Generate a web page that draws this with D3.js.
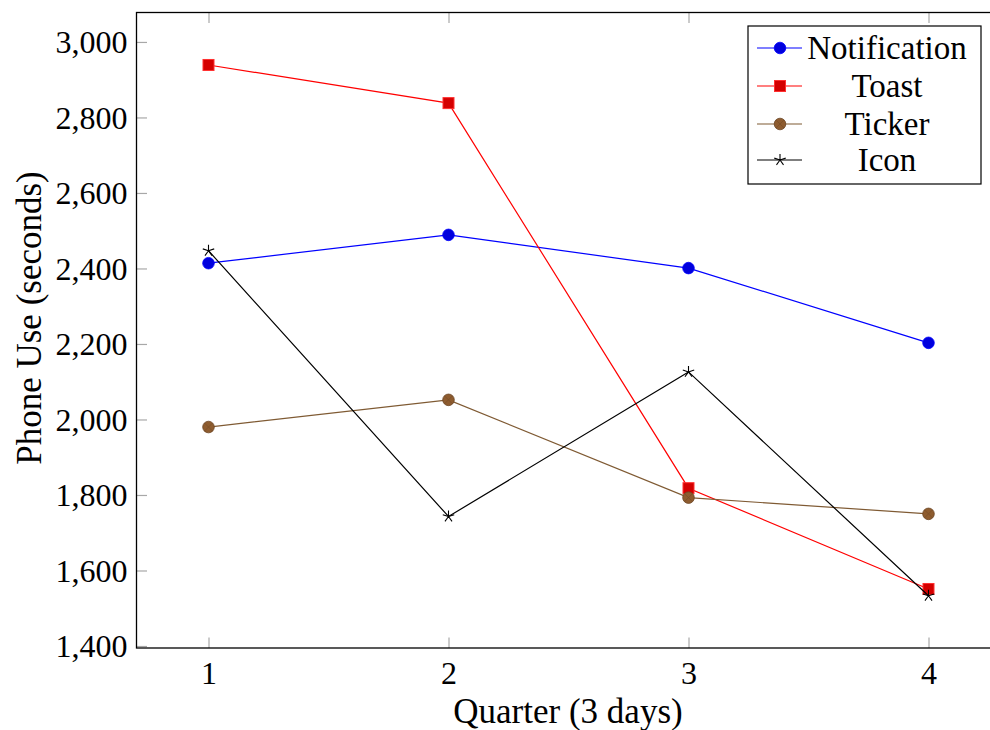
<!DOCTYPE html>
<html><head><meta charset="utf-8">
<script src="https://cdn.jsdelivr.net/npm/d3@7"></script>
<style>
html,body{margin:0;padding:0;background:#fff;}
svg{display:block;}
</style></head>
<body><svg id="c" width="990" height="730"></svg>
<script>
const quarters = [1, 2, 3, 4];
const notification = [2414, 2489, 2401, 2203];
const toast = [2939, 2838, 1818, 1551];
const ticker = [1980, 2052, 1793, 1750];
const icon = [2447, 1743, 2126, 1533];
const seriesNames = ["Notification", "Toast", "Ticker", "Icon"];
const yTicks = [1400, 1600, 1800, 2000, 2200, 2400, 2600, 2800, 3000];
const xTicks = [1, 2, 3, 4];

const series = [
  {name: seriesNames[0], values: notification, line: "#0000ff", fill: "#0000dd", stroke: "#0000ff", mark: "circle"},
  {name: seriesNames[1], values: toast, line: "#ff0000", fill: "#d40000", stroke: "#ff3030", mark: "square"},
  {name: seriesNames[2], values: ticker, line: "#7f5a33", fill: "#8e5c2f", stroke: "#6b4524", mark: "otimes"},
  {name: seriesNames[3], values: icon, line: "#000000", fill: "none", stroke: "#000", mark: "star"}
];

const FONT = "Liberation Serif";
const svg = d3.select("#c");
const L = 136.5, R = 1000.5, T = 12.5, B = 648;
const x = d3.scaleLinear().domain([0.7, 4.3]).range([L, R]);
const y = d3.scaleLinear().domain([1394.7, 3078]).range([B, T]);
const FS_TICK = 32, FS_LEG = 33, FS_LAB = 35;
const tickLen = 10.5;
const tickColor = "#a8a8a8";

function styleText(sel, fs) {
  return sel.attr("font-family", FONT).attr("font-size", fs).attr("fill", "#000");
}

const g = svg.append("g");
const yAxisL = d3.axisLeft(y).tickValues(yTicks).tickSize(-tickLen).tickFormat(d3.format(","));
const gl = g.append("g").attr("transform", `translate(${L},0)`).call(yAxisL);
gl.attr("font-family", FONT).attr("font-size", FS_TICK);
gl.select(".domain").remove();
gl.selectAll(".tick line").attr("stroke", tickColor).attr("stroke-width", 1.2);
styleText(gl.selectAll(".tick text").attr("x", -9).attr("dy", "0.33em"), FS_TICK);

const yAxisR = d3.axisRight(y).tickValues(yTicks).tickSize(-tickLen).tickFormat("");
const gr = g.append("g").attr("transform", `translate(${R},0)`).call(yAxisR);
gr.select(".domain").remove();
gr.selectAll(".tick line").attr("stroke", tickColor).attr("stroke-width", 1.2);

const xAxisB = d3.axisBottom(x).tickValues(xTicks).tickSize(-tickLen).tickFormat(d3.format("d"));
const gb = g.append("g").attr("transform", `translate(0,${B})`).call(xAxisB);
gb.attr("font-family", FONT).attr("font-size", FS_TICK);
gb.select(".domain").remove();
gb.selectAll(".tick line").attr("stroke", tickColor).attr("stroke-width", 1.2);
styleText(gb.selectAll(".tick text").attr("y", 36).attr("dy", 0), FS_TICK);

const xAxisT = d3.axisTop(x).tickValues(xTicks).tickSize(-tickLen).tickFormat("");
const gt = g.append("g").attr("transform", `translate(0,${T})`).call(xAxisT);
gt.select(".domain").remove();
gt.selectAll(".tick line").attr("stroke", tickColor).attr("stroke-width", 1.2);

svg.append("rect").attr("x", L).attr("y", T).attr("width", R - L).attr("height", B - T)
  .attr("fill", "none").attr("stroke", "#000").attr("stroke-width", 1.3);

function drawMark(sel, s, cx, cy) {
  if (s.mark === "circle") {
    sel.append("circle").attr("cx", cx).attr("cy", cy).attr("r", 5.8)
      .attr("fill", s.fill).attr("stroke", s.stroke).attr("stroke-width", 0.8);
  } else if (s.mark === "square") {
    sel.append("rect").attr("x", cx - 5.5).attr("y", cy - 5.5).attr("width", 11).attr("height", 11)
      .attr("fill", s.fill).attr("stroke", s.stroke).attr("stroke-width", 1);
  } else if (s.mark === "otimes") {
    sel.append("circle").attr("cx", cx).attr("cy", cy).attr("r", 5.8)
      .attr("fill", s.fill).attr("stroke", s.stroke).attr("stroke-width", 0.8);
    const d = 5.8 * Math.SQRT1_2;
    sel.append("path").attr("d", `M${cx - d},${cy - d}L${cx + d},${cy + d}M${cx - d},${cy + d}L${cx + d},${cy - d}`)
      .attr("stroke", s.stroke).attr("stroke-width", 0.7).attr("opacity", 0.6);
  } else if (s.mark === "star") {
    let p = "";
    for (let k = 0; k < 5; k++) {
      const a = -Math.PI / 2 + k * 2 * Math.PI / 5;
      p += `M${cx},${cy}L${cx + 6 * Math.cos(a)},${cy + 6 * Math.sin(a)}`;
    }
    sel.append("path").attr("d", p).attr("stroke", "#000").attr("stroke-width", 1.1).attr("fill", "none");
  }
}

const line = d3.line().x((d, i) => x(quarters[i])).y(d => y(d));
series.forEach(s => {
  const gs = svg.append("g");
  gs.append("path").attr("d", line(s.values)).attr("fill", "none")
    .attr("stroke", s.line).attr("stroke-width", 1.2);
  s.values.forEach((v, i) => drawMark(gs, s, x(quarters[i]), y(v)));
});

styleText(svg.append("text").attr("x", 568).attr("y", 723).attr("text-anchor", "middle"), FS_LAB)
  .text("Quarter (3 days)");
styleText(svg.append("text").attr("transform", `translate(41,318) rotate(-90)`).attr("text-anchor", "middle"), FS_LAB)
  .text("Phone Use (seconds)");

const lx = 748, ly = 26, lw = 233, lh = 158;
const lg = svg.append("g");
lg.append("rect").attr("x", lx).attr("y", ly).attr("width", lw).attr("height", lh)
  .attr("fill", "#fff").attr("stroke", "#000").attr("stroke-width", 1.2);
const rowY = [48, 86, 124, 160];
series.forEach((s, i) => {
  const yy = rowY[i];
  lg.append("line").attr("x1", 757).attr("x2", 802).attr("y1", yy).attr("y2", yy)
    .attr("stroke", s.line).attr("stroke-width", 1.2);
  drawMark(lg, s, 780, yy);
  styleText(lg.append("text").attr("x", 887).attr("y", yy).attr("dy", "0.34em").attr("text-anchor", "middle"), FS_LEG)
    .text(s.name);
});
</script></body></html>
